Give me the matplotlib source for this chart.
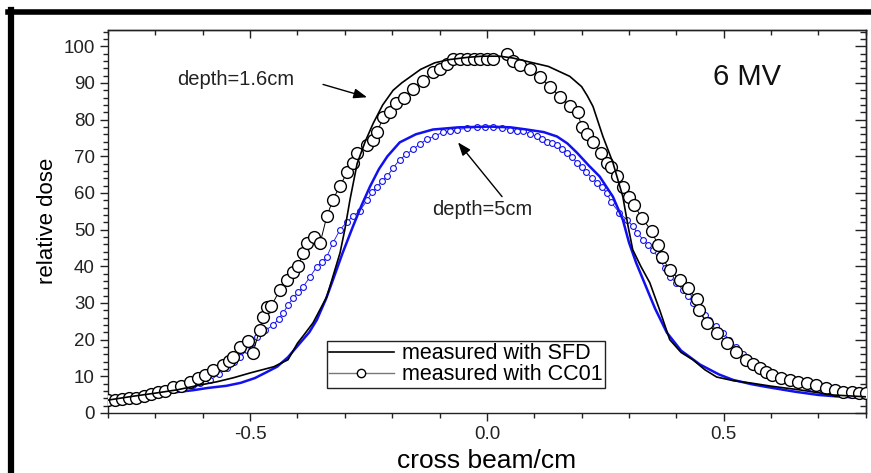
import matplotlib
matplotlib.use("Agg")
import matplotlib.pyplot as plt
from matplotlib.lines import Line2D
from matplotlib.ticker import MultipleLocator
import numpy as np

plt.rcParams['font.family'] = ['Liberation Sans', 'DejaVu Sans']

# depth = 1.6 cm, SFD (black line)
sfd16_x = [-0.80, -0.75, -0.70, -0.654, -0.61, -0.57, -0.535, -0.50, -0.45, -0.42, -0.40, -0.385,
           -0.367, -0.338, -0.31, -0.30, -0.289, -0.274, -0.257, -0.24, -0.22, -0.198, -0.18, -0.14,
           -0.11, -0.078, -0.04, -0.01, 0.027, 0.055, 0.084, 0.13, 0.175, 0.20, 0.212, 0.224, 0.245,
           0.266, 0.287, 0.298, 0.308, 0.325, 0.344, 0.365, 0.386, 0.41, 0.435, 0.46, 0.485, 0.52,
           0.555, 0.60, 0.66, 0.73, 0.80]
sfd16_y = [3.5, 4.5, 5.4, 6.3, 7.5, 8.5, 9.6, 10.9, 12.6, 14.5, 19.0, 21.5,
           24.6, 31.7, 43.7, 50.0, 58.2, 68.0, 74.0, 79.0, 84.0, 88.0, 90.0, 93.7,
           95.5, 96.4, 97.0, 97.3, 97.3, 96.8, 95.9, 94.5, 91.8, 89.0, 86.5, 83.6, 75.4,
           68.3, 59.0, 51.0, 44.5, 40.0, 35.5, 28.0, 20.0, 16.5, 14.5, 11.8, 9.8, 8.8,
           8.2, 7.3, 6.3, 4.9, 4.4]

# depth = 1.6 cm, CC01 (black open circles)
cc16_x = [-0.80, -0.785, -0.77, -0.755, -0.74, -0.725, -0.71, -0.695, -0.68, -0.662, -0.645, -0.627,
          -0.61, -0.595, -0.578, -0.557, -0.545, -0.536, -0.521, -0.505, -0.494, -0.48, -0.473, -0.464,
          -0.455, -0.437, -0.422, -0.41, -0.399, -0.388, -0.38, -0.366, -0.352, -0.338, -0.325, -0.31,
          -0.295, -0.283, -0.274, -0.253, -0.24, -0.232, -0.219, -0.205, -0.192, -0.175, -0.156, -0.135,
          -0.114, -0.10, -0.085, -0.072, -0.057, -0.042, -0.028, -0.015, 0.0, 0.013, 0.042, 0.055,
          0.07, 0.09, 0.112, 0.133, 0.154, 0.175, 0.192, 0.20, 0.212, 0.224, 0.24, 0.253,
          0.262, 0.274, 0.287, 0.30, 0.31, 0.327, 0.348, 0.361, 0.369, 0.386, 0.407, 0.424,
          0.443, 0.448, 0.464, 0.485, 0.508, 0.527, 0.548, 0.562, 0.576, 0.59, 0.603, 0.62,
          0.639, 0.657, 0.675, 0.695, 0.717, 0.735, 0.751, 0.77, 0.785, 0.80]
cc16_y = [3.4, 3.6, 3.8, 4.0, 4.2, 4.6, 5.2, 5.6, 6.0, 7.0, 7.4, 8.4,
          9.6, 10.4, 11.7, 13.1, 14.3, 15.3, 18.0, 19.5, 16.4, 22.5, 26.2, 29.0,
          29.2, 33.6, 36.3, 38.4, 40.0, 43.7, 46.4, 48.1, 46.4, 53.6, 58.2, 62.0,
          65.6, 68.3, 71.0, 73.2, 74.5, 76.5, 80.6, 82.0, 84.5, 86.0, 88.3, 90.5,
          92.9, 93.7, 95.2, 96.4, 96.4, 96.4, 96.4, 96.4, 96.4, 96.4, 97.8, 95.9,
          95.0, 93.7, 91.5, 89.0, 86.3, 83.6, 82.0, 77.9, 76.0, 73.8, 71.0, 68.3,
          67.0, 64.5, 61.7, 59.0, 56.8, 53.3, 49.5, 45.9, 42.6, 39.0, 36.3, 34.1,
          31.0, 28.0, 24.6, 21.9, 19.1, 16.7, 14.5, 13.3, 12.3, 11.2, 10.4, 9.6,
          9.0, 8.5, 8.2, 7.5, 6.8, 6.2, 5.7, 5.6, 5.5, 5.3]

# depth = 5 cm, SFD (blue line)
sfd5_x = [-0.80, -0.75, -0.70, -0.654, -0.62, -0.59, -0.55, -0.52, -0.49, -0.47, -0.443, -0.42,
          -0.395, -0.375, -0.359, -0.34, -0.325, -0.305, -0.283, -0.265, -0.247, -0.228, -0.21, -0.184,
          -0.15, -0.114, -0.06, 0.006, 0.05, 0.084, 0.12, 0.148, 0.17, 0.19, 0.215, 0.238,
          0.266, 0.287, 0.30, 0.315, 0.33, 0.355, 0.38, 0.41, 0.45, 0.49, 0.52, 0.56,
          0.59, 0.65, 0.70, 0.75, 0.80]
sfd5_y = [3.6, 4.4, 5.2, 5.7, 6.2, 6.8, 7.4, 8.2, 9.5, 10.8, 12.6, 15.2,
          19.0, 22.0, 25.4, 31.0, 36.3, 43.5, 50.8, 56.5, 61.7, 66.5, 70.0, 73.8,
          76.0, 77.3, 77.9, 78.1, 77.9, 77.3, 76.6, 75.4, 73.5, 71.0, 67.5, 64.5,
          59.0, 52.7, 46.5, 41.0, 36.3, 28.5, 21.9, 17.0, 13.2, 10.5, 9.0, 7.8,
          7.1, 5.8, 4.9, 4.4, 4.1]

# depth = 5 cm, CC01 (blue open circles)
cc5_x = [-0.80, -0.77, -0.74, -0.71, -0.685, -0.662, -0.64, -0.62, -0.605, -0.584, -0.566, -0.549,
         -0.535, -0.521, -0.506, -0.495, -0.485, -0.468, -0.451, -0.44, -0.43, -0.42, -0.409, -0.398,
         -0.388, -0.373, -0.359, -0.348, -0.338, -0.325, -0.31, -0.296, -0.283, -0.268, -0.253, -0.242,
         -0.232, -0.221, -0.211, -0.198, -0.184, -0.17, -0.156, -0.142, -0.127, -0.11, -0.093, -0.078,
         -0.063, -0.042, -0.021, -0.004, 0.013, 0.031, 0.049, 0.063, 0.076, 0.09, 0.105, 0.116,
         0.127, 0.138, 0.148, 0.159, 0.169, 0.18, 0.19, 0.20, 0.21, 0.221, 0.232, 0.243,
         0.253, 0.262, 0.28, 0.295, 0.308, 0.318, 0.33, 0.34, 0.35, 0.365, 0.376, 0.386,
         0.40, 0.414, 0.425, 0.435, 0.45, 0.46, 0.47, 0.484, 0.498, 0.512, 0.526, 0.54,
         0.555, 0.57, 0.585, 0.60, 0.62, 0.64, 0.66, 0.68, 0.70, 0.72, 0.74, 0.76, 0.78, 0.80]
cc5_y = [3.5, 3.9, 4.5, 5.3, 5.9, 6.3, 7.0, 7.6, 8.2, 9.0, 10.5, 12.3,
         13.8, 15.3, 17.2, 19.0, 20.8, 22.5, 24.0, 25.6, 27.3, 29.4, 31.4, 33.0,
         34.4, 37.2, 39.9, 41.2, 42.6, 46.4, 50.0, 52.0, 53.6, 55.2, 58.0, 60.3,
         61.7, 63.2, 64.5, 66.8, 69.1, 70.5, 71.9, 73.3, 74.6, 75.6, 76.5, 76.9,
         77.3, 77.6, 77.9, 77.9, 77.9, 77.6, 77.3, 77.0, 76.8, 76.1, 75.4, 74.7,
         74.0, 73.6, 73.2, 72.1, 71.0, 69.7, 68.3, 67.0, 65.6, 64.2, 62.8, 61.5,
         60.1, 57.5, 54.6, 52.7, 51.0, 49.0, 47.3, 45.8, 44.5, 41.8, 39.5, 37.2,
         35.5, 33.6, 31.8, 30.0, 28.1, 26.8, 25.4, 23.6, 21.9, 20.0, 18.0, 16.0,
         14.2, 12.6, 11.4, 10.2, 9.2, 8.4, 7.8, 7.2, 6.6, 6.0, 5.6, 5.2, 4.9, 4.7]

blue = '#1010f0'

fig = plt.figure(figsize=(8.71, 4.73), dpi=100)
ax = fig.add_axes([0.124, 0.127, 0.870, 0.810])

ax.plot(cc5_x, cc5_y, '-', color=blue, lw=0.6, marker='o', ms=4.2,
        mfc='white', mec=blue, mew=0.8, zorder=2)
ax.plot(sfd5_x, sfd5_y, '-', color=blue, lw=1.8, zorder=3)
ax.plot(cc16_x, cc16_y, '-', color='black', lw=0.7, marker='o', ms=8.5,
        mfc='white', mec='black', mew=1.0, zorder=4)
ax.plot(sfd16_x, sfd16_y, '-', color='black', lw=1.2, zorder=5)

ax.set_xlim(-0.8, 0.8)
ax.set_ylim(0, 104.5)
ax.xaxis.set_major_locator(MultipleLocator(0.5))
ax.xaxis.set_minor_locator(MultipleLocator(0.1))
ax.yaxis.set_major_locator(MultipleLocator(10))
ax.yaxis.set_minor_locator(MultipleLocator(2))
ax.tick_params(which='both', direction='out', top=False, right=False, labelsize=13.5,
               colors='#222222', width=1.0)
ax.tick_params(which='major', length=6)
ax.tick_params(which='minor', length=3.5)
ax.set_xticks([-0.5, 0.0, 0.5])
ax.set_xticklabels(['-0.5', '0.0', '0.5'])

# inward ticks on the top and right side
sec_x = ax.secondary_xaxis('top')
sec_x.xaxis.set_major_locator(MultipleLocator(0.5))
sec_x.xaxis.set_minor_locator(MultipleLocator(0.1))
sec_x.tick_params(which='both', direction='in', labeltop=False, width=1.0, colors='#222222')
sec_x.tick_params(which='major', length=6)
sec_x.tick_params(which='minor', length=3.5)
sec_y = ax.secondary_yaxis('right')
sec_y.yaxis.set_major_locator(MultipleLocator(10))
sec_y.yaxis.set_minor_locator(MultipleLocator(2))
sec_y.tick_params(which='both', direction='in', labelright=False, width=1.0, colors='#222222')
sec_y.tick_params(which='major', length=8)
sec_y.tick_params(which='minor', length=4.5)

for s in ax.spines.values():
    s.set_linewidth(1.0)
    s.set_color('#222222')
for s in list(sec_x.spines.values()) + list(sec_y.spines.values()):
    s.set_linewidth(1.0)
    s.set_color('#222222')

ax.set_xlabel('cross beam/cm', fontsize=19, labelpad=4)
ax.set_ylabel('relative dose', fontsize=16, labelpad=4)

ax.text(-0.53, 90.9, 'depth=1.6cm', fontsize=14.5, ha='center', va='center', color='#222222')
ax.text(-0.01, 55.5, 'depth=5cm', fontsize=14.5, ha='center', va='center', color='#222222')
ax.text(0.55, 91.5, '6 MV', fontsize=21, ha='center', va='center', color='#111111')

arrow = dict(arrowstyle='-|>,head_length=0.8,head_width=0.3', color='black', lw=1.0,
             shrinkA=0, shrinkB=0)
ax.annotate('', xy=(-0.253, 86.1), xytext=(-0.346, 89.6), arrowprops=arrow)
ax.annotate('', xy=(-0.061, 73.8), xytext=(0.032, 59.0), arrowprops=arrow)

handles = [Line2D([], [], color='black', lw=1.2),
           Line2D([], [], color='#777777', lw=1.0, marker='o', ms=6,
                  mfc='white', mec='black', mew=1.0)]
leg = ax.legend(handles, ['measured with SFD', 'measured with CC01'],
                loc='lower left', bbox_to_anchor=(0.289, 0.066), fontsize=15.5,
                fancybox=False, framealpha=1, edgecolor='#222222',
                handlelength=3.0, borderpad=0.1, labelspacing=0.0,
                handletextpad=0.4, borderaxespad=0)
leg.get_frame().set_linewidth(1.0)

# thick black frame at top and left edges of the picture
fig.add_artist(Line2D([8 / 871, 1.0], [1 - 12.5 / 473, 1 - 12.5 / 473],
                      color='black', lw=4, transform=fig.transFigure))
fig.add_artist(Line2D([11 / 871, 11 / 871], [0.0, 1 - 10.5 / 473],
                      color='black', lw=4.5, transform=fig.transFigure))

fig.savefig('out.png', dpi=100)
